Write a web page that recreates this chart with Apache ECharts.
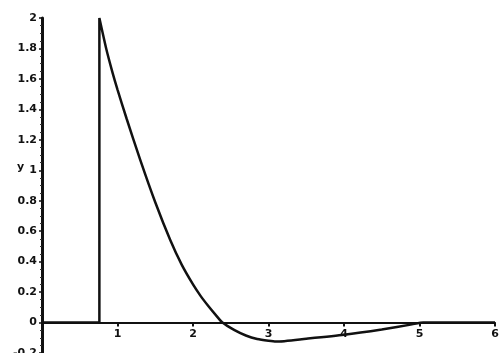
<!DOCTYPE html>
<html>
<head>
<meta charset="utf-8">
<script src="https://cdn.jsdelivr.net/npm/echarts@6/dist/echarts.min.js"></script>
<style>
  html, body { margin: 0; padding: 0; background: #fff; }
  #chart { width: 499px; height: 353px; }
</style>
</head>
<body>
<div id="chart"></div>
<script>
// Response curve: sharp rise at t≈0.76, decay, small undershoot, settles at 0
const xValues = [0, 0.76, 0.76, 0.85, 0.935, 1.0, 1.12, 1.3, 1.5, 1.7, 1.85, 2.0, 2.1, 2.2, 2.3, 2.39, 2.55, 2.7, 2.85, 3.0, 3.1, 3.5, 4.0, 4.5, 4.9, 5.05, 6];
const yValues = [0, 0, 2, 1.8, 1.64, 1.53, 1.34, 1.07, 0.79, 0.54, 0.38, 0.25, 0.175, 0.11, 0.05, 0, -0.05, -0.085, -0.108, -0.12, -0.125, -0.106, -0.08, -0.045, -0.012, 0, 0];

const xTicks = { min: 0, max: 6, step: 1 };
const yTicks = { min: -0.2, max: 2, step: 0.2 };

const points = xValues.map((x, i) => [x, yValues[i]]);

const chart = echarts.init(document.getElementById('chart'));
const labelFont = { color: '#111', fontSize: 11, fontWeight: 'bold', fontFamily: 'DejaVu Sans' };

chart.setOption({
  animation: false,
  grid: { left: 42, right: 4, top: 18, bottom: 0, containLabel: false, outerBoundsMode: 'none' },
  xAxis: {
    type: 'value',
    min: xTicks.min, max: xTicks.max, interval: xTicks.step,
    axisLine: { onZero: true, lineStyle: { color: '#111', width: 2 } },
    axisTick: { show: true, inside: false, length: 4, lineStyle: { color: '#111', width: 2 } },
    // labels of an on-zero axis are laid out from the grid bottom; pull them up under the line
    axisLabel: Object.assign({ margin: -24, showMinLabel: false }, labelFont),
    splitLine: { show: false }
  },
  yAxis: {
    type: 'value',
    min: yTicks.min, max: yTicks.max, interval: yTicks.step,
    axisLine: { show: true, onZero: false, lineStyle: { color: '#111', width: 3 } },
    axisTick: { show: true, length: 3, lineStyle: { color: '#111', width: 1.5 } },
    minorTick: { show: true, splitNumber: 4, length: 2, lineStyle: { color: '#333', width: 1 } },
    axisLabel: Object.assign({
      margin: 5,
      formatter: v => String(Math.round(v * 10) / 10)
    }, labelFont),
    splitLine: { show: false }
  },
  graphic: [{
    type: 'text', left: 17, top: 162,
    style: { text: 'y', fill: '#111', font: 'bold 11px DejaVu Sans' }
  }],
  series: [{
    type: 'line',
    data: points,
    showSymbol: false,
    smooth: 0.2,
    lineStyle: { color: '#111', width: 2.5 }
  }]
});
</script>
</body>
</html>
